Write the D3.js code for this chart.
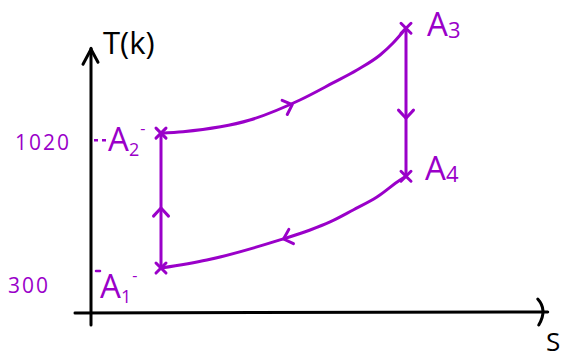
<!DOCTYPE html>
<html>
<head>
<meta charset="utf-8">
<script src="https://cdn.jsdelivr.net/npm/d3@7"></script>
<style>
  html, body { margin: 0; padding: 0; background: #fff; }
  svg { display: block; }
</style>
</head>
<body>
<svg id="chart" width="566" height="360"></svg>
<script>
// Brayton-type cycle on a T–S diagram (temperature in K vs entropy, arbitrary units)
const stateNames = ["A1", "A2", "A3", "A4"];
const stateS = [2, 2, 9, 9];
const stateT = [300, 1020, 1580, 790];

// 2 → 3 heat addition path (S, T)
const heatInS = [2, 2.63, 4.54, 5.97, 6.91, 7.6, 8.26, 8.63, 9];
const heatInT = [1020, 1028, 1090, 1197, 1288, 1357, 1437, 1501, 1580];
// 4 → 1 heat rejection path (S, T)
const heatOutS = [9, 8.83, 8.17, 7.49, 6.83, 6.26, 5.4, 3.31, 2];
const heatOutT = [790, 770, 679, 610, 546, 503, 450, 343, 300];

const tickTemps = [300, 1020];
const tickLabels = ["300", "1020"];

const purple = "#9a00c9";
const svg = d3.select("#chart");

const x = d3.scaleLinear().domain([0, 13]).range([91, 546]);
const y = d3.scaleLinear().domain([60, 1640]).range([313, 17]);

const font = "'Open Sans', 'DejaVu Sans', sans-serif";

// axes
const axisG = svg.append("g").attr("stroke", "#000").attr("stroke-width", 3)
  .attr("fill", "none").attr("stroke-linecap", "round").attr("stroke-linejoin", "round");
axisG.append("line").attr("x1", x(0)).attr("x2", x(0)).attr("y1", y(60) + 12).attr("y2", y(1580) + 20);
axisG.append("path").attr("d", `M${x(0) - 8},${y(1580) + 36} L${x(0)},${y(1580) + 21} L${x(0) + 7},${y(1580) + 34}`);
axisG.append("line").attr("x1", x(0) - 16).attr("x2", x(13.05)).attr("y1", y(60)).attr("y2", y(60) - 1);
axisG.append("path").attr("d", `M${x(13.05) - 10},${y(60) - 14} Q${x(13.05)},${y(60) - 3} ${x(13.05) - 9},${y(60) + 12}`);

svg.append("text").attr("x", 103).attr("y", 54).attr("font-family", font)
  .attr("font-size", 31).attr("fill", "#000").text("T(k)");
svg.append("text").attr("x", 546).attr("y", 351).attr("font-family", font)
  .attr("font-size", 26).attr("fill", "#000").text("S");

// temperature tick labels
svg.append("g").selectAll("text").data(tickTemps).join("text")
  .attr("x", (d, i) => i === 0 ? 8 : 15)
  .attr("y", d => y(d) + (d === 300 ? 25 : 17))
  .attr("font-family", font).attr("font-size", 21).attr("fill", purple)
  .attr("letter-spacing", 2)
  .text((d, i) => tickLabels[i]);

// dashed guides to the T axis
svg.append("line").attr("x1", x(0) + 3).attr("x2", x(0) + 17).attr("y1", y(1020) + 7).attr("y2", y(1020) + 7)
  .attr("stroke", purple).attr("stroke-width", 2.5).attr("stroke-dasharray", "4,4");
svg.append("line").attr("x1", x(0) + 5).attr("x2", x(0) + 9).attr("y1", y(300) + 3).attr("y2", y(300) + 3)
  .attr("stroke", purple).attr("stroke-width", 2.5).attr("stroke-linecap", "round");

// cycle paths (monotone in S, so drawn in ascending S order)
const line = d3.line().x(d => x(d[0])).y(d => y(d[1])).curve(d3.curveMonotoneX);
const asc = (ss, tt) => ss.map((s, i) => [s, tt[i]]).sort((a, b) => a[0] - b[0]);
const cyc = svg.append("g").attr("stroke", purple).attr("stroke-width", 3)
  .attr("fill", "none").attr("stroke-linecap", "round").attr("stroke-linejoin", "round");
cyc.append("path").attr("d", line(asc(heatInS, heatInT)));
cyc.append("path").attr("d", line(asc(heatOutS, heatOutT)));
cyc.append("line").attr("x1", x(stateS[0])).attr("x2", x(stateS[1])).attr("y1", y(stateT[0])).attr("y2", y(stateT[1]));
cyc.append("line").attr("x1", x(stateS[2])).attr("x2", x(stateS[3])).attr("y1", y(stateT[2])).attr("y2", y(stateT[3]));

// direction chevrons: position on the path and direction of travel in degrees
function chevron(px, py, ang) {
  const a = ang * Math.PI / 180, L = 11, spread = 0.75;
  const p1 = [px - L * Math.cos(a - spread), py - L * Math.sin(a - spread)];
  const p2 = [px - L * Math.cos(a + spread), py - L * Math.sin(a + spread)];
  cyc.append("path").attr("d", `M${p1[0]},${p1[1]} L${px},${py} L${p2[0]},${p2[1]}`);
}
chevron(x(5.75), y(1172), -20);
chevron(x(9), y(1100), 90);
chevron(x(5.5), y(455), 162);
chevron(x(2), y(620), -90);

// state crosses
const cross = svg.append("g").attr("stroke", purple).attr("stroke-width", 3).attr("stroke-linecap", "round");
stateS.forEach((s, i) => {
  const cx = x(s), cy = y(stateT[i]);
  cross.append("line").attr("x1", cx - 5).attr("y1", cy - 5).attr("x2", cx + 5).attr("y2", cy + 5);
  cross.append("line").attr("x1", cx - 5).attr("y1", cy + 5).attr("x2", cx + 5).attr("y2", cy - 5);
});

// state labels
const labelPos = [[100, 298], [108, 151], [427, 36], [425, 180]];
const labelMark = [true, true, false, false];
stateNames.forEach((nm, i) => {
  const t = svg.append("text").attr("x", labelPos[i][0]).attr("y", labelPos[i][1])
    .attr("font-family", font).attr("font-size", 33).attr("fill", purple);
  t.append("tspan").text(nm[0]);
  if (labelMark[i]) {
    t.append("tspan").attr("font-size", 18).attr("dy", 5).text(nm[1]);
    t.append("tspan").attr("font-size", 16).attr("dx", 1).attr("dy", -22).text("-");
  } else {
    t.append("tspan").attr("font-size", 22).attr("dy", 2).text(nm[1]);
  }
});
</script>
</body>
</html>
